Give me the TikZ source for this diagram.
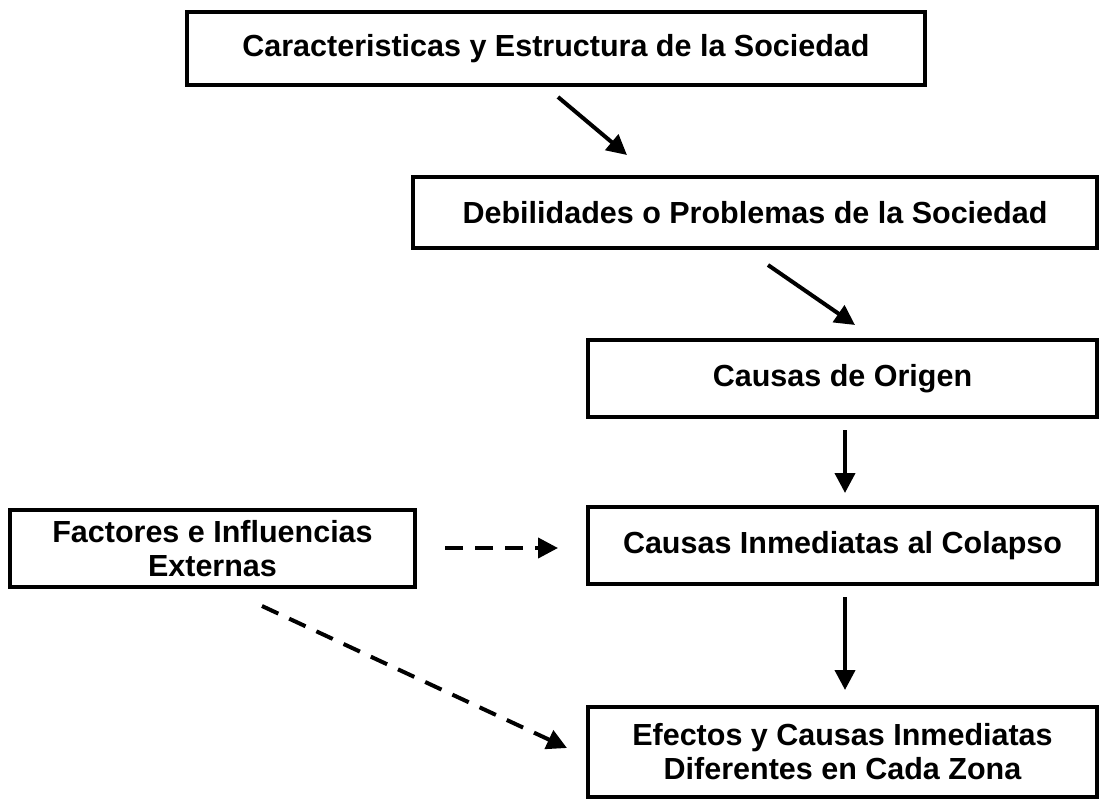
\documentclass[tikz,border=0pt]{standalone}
\usepackage{fontspec}
\setmainfont{Liberation Sans}
\usetikzlibrary{arrows.meta}
\begin{document}
\begin{tikzpicture}[x=1pt,y=-1pt,
  box/.style={draw, line width=3.5pt, inner sep=0pt, align=center,
    font=\bfseries\fontsize{30.5}{34}\selectfont},
  arr/.style={line width=4pt, -{Triangle[length=20pt,width=20pt]}},
  darr/.style={arr, dash pattern=on 18pt off 12pt}]
\useasboundingbox (0,0) rectangle (1099,800);
\node[box, minimum width=738pt, minimum height=73pt] (b1) at (556,48.5) {Caracteristicas y Estructura de la Sociedad};
\node[box, minimum width=684pt, minimum height=71pt] (b2) at (755,212.5) {Debilidades o Problemas de la Sociedad};
\node[box, minimum width=509pt, minimum height=77pt] (b3) at (842.5,378.5) {Causas de Origen};
\node[box, minimum width=509pt, minimum height=77pt] (b4) at (842.5,545.5) {Causas Inmediatas al Colapso};
\node[box, minimum width=405pt, minimum height=77pt] (b5) at (212.5,548.5) {Factores e Influencias\\Externas};
\node[box, minimum width=509pt, minimum height=90pt] (b6) at (842.5,752) {Efectos y Causas Inmediatas\\Diferentes en Cada Zona};
\coordinate (p1) at (558,97);  \coordinate (q1) at (627,155);
\coordinate (p2) at (768,265); \coordinate (q2) at (855,325);
\coordinate (p3) at (845,430); \coordinate (q3) at (845,493);
\coordinate (p4) at (845,597); \coordinate (q4) at (845,690);
\coordinate (p5) at (445,548); \coordinate (q5) at (558,548);
\coordinate (p6) at (262,606); \coordinate (q6) at (567,748);
\draw[arr] (p1) -- (q1);
\draw[arr] (p2) -- (q2);
\draw[arr] (p3) -- (q3);
\draw[arr] (p4) -- (q4);
\draw[darr] (p5) -- (q5);
\draw[darr] (p6) -- (q6);
\end{tikzpicture}
\end{document}
